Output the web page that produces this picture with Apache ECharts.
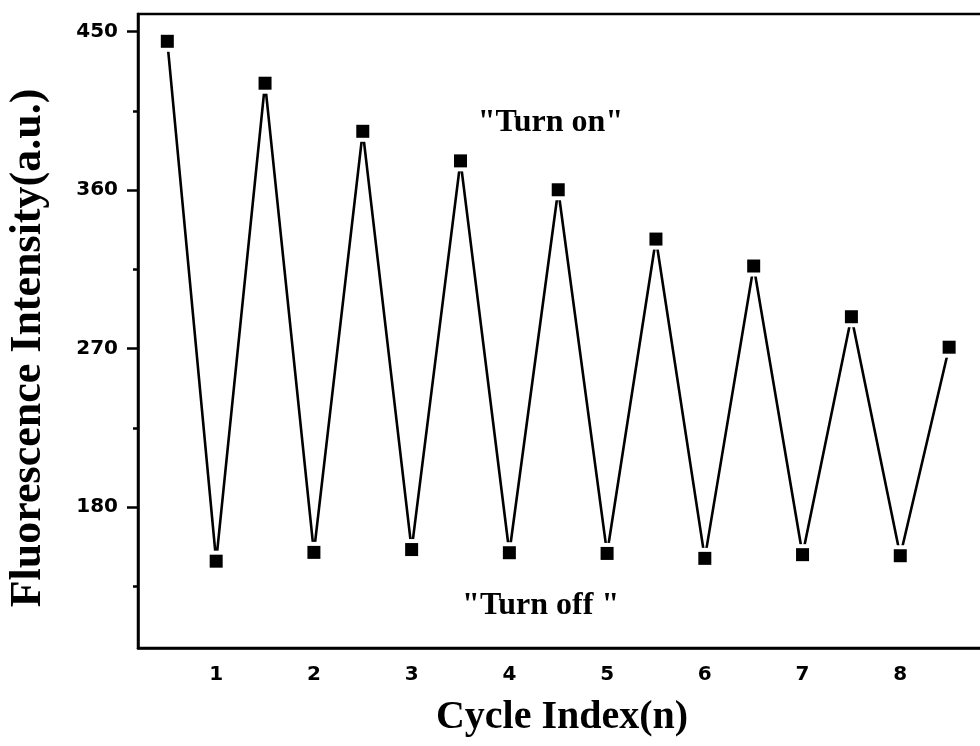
<!DOCTYPE html>
<html>
<head>
<meta charset="utf-8">
<script src="https://cdn.jsdelivr.net/npm/echarts@6/dist/echarts.min.js"></script>
<style>
html,body{margin:0;padding:0;background:#fff;}
#chart{width:980px;height:746px;}
</style>
</head>
<body>
<div id="chart"></div>
<script>
// ---- data ----
const cycleX = [0.5, 1, 1.5, 2, 2.5, 3, 3.5, 4, 4.5, 5, 5.5, 6, 6.5, 7, 7.5, 8, 8.5];
const intensity = [444.5, 149.3, 420.7, 154.3, 393.4, 155.9, 376.6, 154.1, 360.2, 153.7, 332.2, 150.9, 316.9, 153.0, 288.1, 152.4, 270.8];
const xTickLabels = [1, 2, 3, 4, 5, 6, 7, 8];
const yTickLabels = [180, 270, 360, 450];
const yMinorTicks = [135, 225, 315, 405];
const xTitle = 'Cycle Index(n)';
const yTitle = 'Fluorescence Intensity(a.u.)';
const annotations = [
  { x: 4.42, y: 398.5, text: '"Turn on"' },
  { x: 4.32, y: 123.8, text: '"Turn off "' }
];

const points = cycleX.map((x, i) => [x, intensity[i]]);

const chart = echarts.init(document.getElementById('chart'), null, { renderer: 'canvas' });
const labelFont = { fontFamily: 'DejaVu Sans', fontWeight: 'bold', fontSize: 20, color: '#000' };

chart.setOption({
  animation: false,
  backgroundColor: '#fff',
  grid: {
    left: 138, top: 14, width: 860, height: 634,
    outerBoundsMode: 'none', containLabel: false,
    show: true, borderColor: '#000', borderWidth: 2.5, backgroundColor: 'transparent'
  },
  xAxis: {
    type: 'value', min: 0.2, max: 9,
    axisLine: { show: true, lineStyle: { color: '#000', width: 2.5 } },
    axisTick: { show: false },
    splitLine: { show: false },
    axisLabel: Object.assign({ customValues: xTickLabels, margin: 17 }, labelFont)
  },
  yAxis: [
    {
      type: 'value', min: 100, max: 460, position: 'left', offset: 0,
      axisLine: { show: true, lineStyle: { color: '#000', width: 2.5 } },
      axisTick: { show: true, customValues: yTickLabels, length: 11, lineStyle: { color: '#000', width: 2.5 } },
      splitLine: { show: false },
      axisLabel: Object.assign({ customValues: yTickLabels, margin: 20 }, labelFont)
    },
    {
      type: 'value', min: 100, max: 460, position: 'left', offset: 0,
      axisLine: { show: false },
      axisTick: { show: true, customValues: yMinorTicks, length: 5, lineStyle: { color: '#000', width: 2.5 } },
      splitLine: { show: false },
      axisLabel: { show: false }
    }
  ],
  series: [
    {
      type: 'line', data: points, yAxisIndex: 0,
      lineStyle: { color: '#000', width: 2.6 },
      symbol: 'rect', symbolSize: 21, showSymbol: true,
      itemStyle: { color: '#fff', borderWidth: 0, opacity: 1 },
      z: 2
    },
    {
      type: 'scatter', data: points, yAxisIndex: 0,
      symbol: 'rect', symbolSize: 13,
      itemStyle: { color: '#000', opacity: 1 },
      z: 3
    }
  ]
});

const graphics = annotations.map(a => {
  const p = chart.convertToPixel({ xAxisIndex: 0, yAxisIndex: 0 }, [a.x, a.y]);
  return {
    type: 'text', x: p[0], y: p[1],
    style: { text: a.text, fill: '#000', font: 'bold 32px "Liberation Serif"', align: 'center', verticalAlign: 'middle' }
  };
});
graphics.push({
  type: 'text', x: 562, y: 718,
  style: { text: xTitle, fill: '#000', font: 'bold 40px "Liberation Serif"', align: 'center', verticalAlign: 'middle' }
});
graphics.push({
  type: 'text', x: 29, y: 348, rotation: Math.PI / 2,
  style: { text: yTitle, fill: '#000', font: 'bold 44px "Liberation Serif"', align: 'center', verticalAlign: 'middle' }
});
chart.setOption({ graphic: graphics });
</script>
</body>
</html>
